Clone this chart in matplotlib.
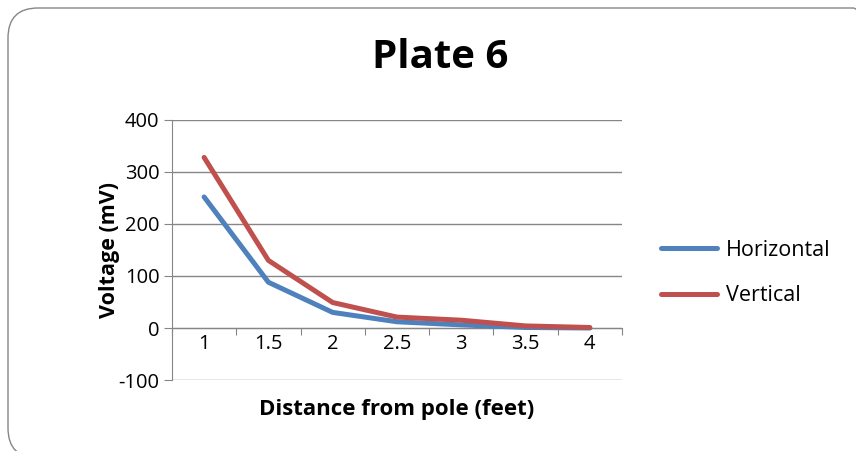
import numpy as np
import matplotlib
matplotlib.use("Agg")
import matplotlib.pyplot as plt
import matplotlib.ticker as ticker
from matplotlib.patches import FancyBboxPatch

plt.rcParams['font.family'] = ['Open Sans', 'DejaVu Sans']
plt.rcParams['axes.unicode_minus'] = False

# Data
distance = ['1', '1.5', '2', '2.5', '3', '3.5', '4']
horizontal = [252, 88, 30, 12, 6, 1, 0]
vertical = [328, 130, 49, 21, 15, 4, 1]

blue = '#4F81BD'
red = '#C0504D'
grid_col = '#868686'

fig = plt.figure(figsize=(8.56, 4.51), dpi=100)
ax = fig.add_axes([0.2009, 0.1574, 0.5257, 0.5766])

x = np.arange(len(distance))
ax.plot(x, horizontal, color=blue, lw=3.6, solid_capstyle='round', solid_joinstyle='round', label='Horizontal', zorder=3)
ax.plot(x, vertical, color=red, lw=3.6, solid_capstyle='round', solid_joinstyle='round', label='Vertical', zorder=3)

ax.set_xlim(-0.5, len(distance) - 0.5)
ax.set_ylim(-100, 400)
ax.yaxis.set_major_locator(ticker.MultipleLocator(100))
ax.grid(axis='y', color=grid_col, lw=1)
ax.set_axisbelow(True)

# category axis crosses at zero, ticks between categories
ax.spines['bottom'].set_position(('data', 0))
ax.spines['bottom'].set_color(grid_col)
ax.spines['left'].set_color(grid_col)
ax.spines['top'].set_visible(False)
ax.spines['right'].set_visible(False)
ax.set_xticks(np.arange(-0.5, len(distance), 1.0))
ax.set_xticklabels([])
ax.set_xticks(x, minor=True)
ax.set_xticklabels(distance, minor=True)
ax.tick_params(axis='x', which='major', direction='out', length=5, color=grid_col)
ax.tick_params(axis='x', which='minor', length=0, pad=4, labelsize=14.5)
ax.tick_params(axis='y', direction='out', length=6, color=grid_col, labelsize=14.5, pad=3)

ax.set_ylabel('Voltage (mV)', fontsize=15.5, fontweight='bold')
ax.yaxis.set_label_coords((120 - 172) / 450, 0.5)
fig.text(397 / 856, 1 - 410 / 451, 'Distance from pole (feet)', fontsize=16,
         fontweight='bold', ha='center', va='center')
fig.text(440 / 856, 1 - 58 / 451, 'Plate 6', fontsize=29, fontweight='bold',
         ha='center', va='center')

ax.legend(loc='center left', bbox_to_anchor=(661 / 856, 1 - 273 / 451),
          bbox_transform=fig.transFigure, frameon=False, fontsize=15.5,
          handlelength=2.6, handletextpad=0.4, labelspacing=1.15, borderpad=0,
          borderaxespad=0)

# rounded chart-area border, running off the right and bottom edges
border = FancyBboxPatch((0.08, -0.07), 8.75, 4.5, boxstyle='round,pad=0,rounding_size=0.3',
                        transform=fig.dpi_scale_trans, fill=False, edgecolor=grid_col, lw=1)
fig.patches.append(border)

fig.savefig('out.png', dpi=100)
